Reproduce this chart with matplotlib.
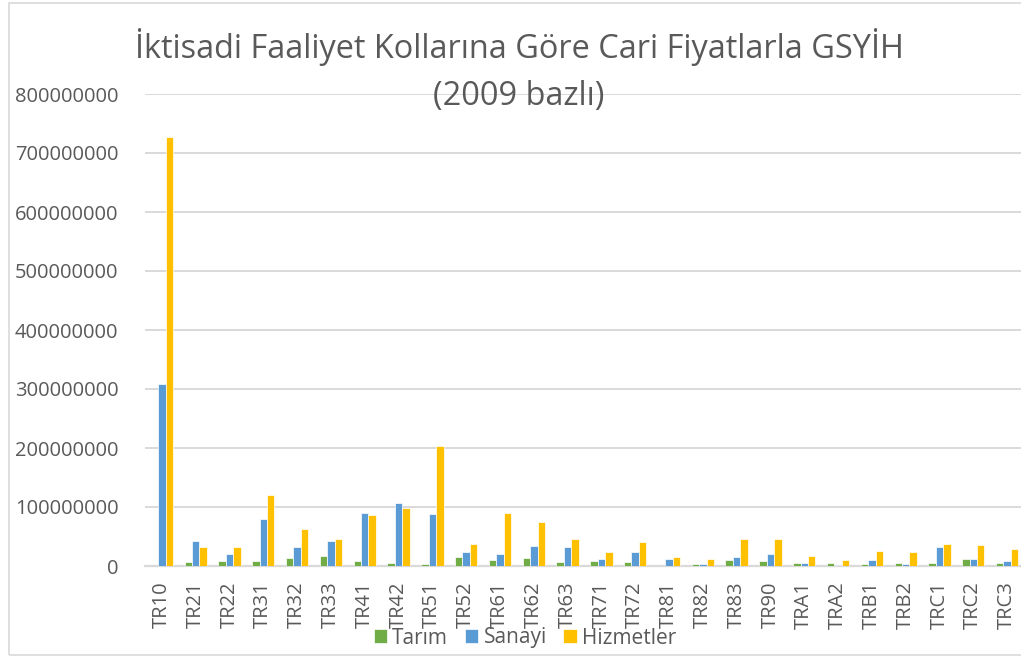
import numpy as np
import matplotlib as mpl
mpl.use('Agg')
import matplotlib.pyplot as plt
import matplotlib.ticker as ticker
from matplotlib.patches import Rectangle

######################
## data (in TL)
######################

regions = ['TR10', 'TR21', 'TR22', 'TR31', 'TR32', 'TR33', 'TR41', 'TR42', 'TR51',
           'TR52', 'TR61', 'TR62', 'TR63', 'TR71', 'TR72', 'TR81', 'TR82', 'TR83',
           'TR90', 'TRA1', 'TRA2', 'TRB1', 'TRB2', 'TRC1', 'TRC2', 'TRC3']

tarim = [0, 7e6, 9e6, 9e6, 14e6, 17e6, 9e6, 5e6, 4e6,
         15e6, 11e6, 14e6, 7e6, 9e6, 7e6, 0, 3.4e6, 11e6,
         8e6, 4.5e6, 5.6e6, 4e6, 5.6e6, 5.6e6, 12e6, 4.5e6]

sanayi = [308e6, 42e6, 21e6, 80e6, 32e6, 43e6, 89e6, 107e6, 88e6,
          24e6, 21e6, 34e6, 33e6, 12e6, 24e6, 12e6, 4e6, 15e6,
          21e6, 5.6e6, 2e6, 10e6, 4e6, 33e6, 12.5e6, 8.5e6]

hizmetler = [727e6, 33e6, 33e6, 120e6, 62e6, 45e6, 87e6, 98e6, 203e6,
             38e6, 90e6, 75e6, 45e6, 23e6, 40e6, 16e6, 12e6, 45e6,
             45e6, 17e6, 11e6, 26e6, 23e6, 37e6, 35e6, 29e6]

series = [('Tarım', tarim, '#70AD47'),
          ('Sanayi', sanayi, '#5B9BD5'),
          ('Hizmetler', hizmetler, '#FFC000')]

######################
## setup plot
######################

plt.rcParams['font.family'] = ['Open Sans', 'DejaVu Sans']
text_color = '#595959'
grid_color = '#D9D9D9'

fig = plt.figure(figsize=(10.21, 6.56), dpi=100)
ax = fig.add_axes([145 / 1021, 90 / 656, 879 / 1021, 472 / 656])

x = np.arange(len(regions))
width = 0.22
for k, (name, vals, color) in enumerate(series):
    ax.bar(x + (k - 1) * width, vals, width, color=color, label=name,
           edgecolor='white', linewidth=0.5, zorder=3)

ax.set_xlim(-0.5, len(regions) - 0.5)
ax.set_ylim(0, 800000000)
ax.yaxis.set_major_locator(ticker.MultipleLocator(100000000))
ax.yaxis.set_major_formatter(ticker.FuncFormatter(lambda v, p: '{:d}'.format(int(v))))

ax.set_xticks(x)
ax.set_xticklabels(regions, rotation=90)

ax.tick_params(axis='y', length=0, pad=19, labelsize=14.5, labelcolor=text_color)
ax.tick_params(axis='x', length=0, pad=11, labelsize=14.5, labelcolor=text_color)

ax.grid(which='major', axis='y', color=grid_color, linewidth=1.4, zorder=0)
for side in ['top', 'right', 'left']:
    ax.spines[side].set_visible(False)
ax.spines['bottom'].set_color(grid_color)
ax.spines['bottom'].set_linewidth(1.6)

fig.text(519 / 1021, 1 - 47 / 656, 'İktisadi Faaliyet Kollarına Göre Cari Fiyatlarla GSYİH',
         ha='center', va='center', fontsize=23.4, color=text_color)
fig.text(519 / 1021, 1 - 97 / 656, '(2009 bazlı)',
         ha='center', va='center', fontsize=23.4, color=text_color)

fig.legend(loc='center', bbox_to_anchor=(525 / 1021, 1 - 638 / 656), ncol=3,
           frameon=False, fontsize=15, labelcolor=text_color,
           handlelength=0.65, handleheight=0.65, handletextpad=0.25,
           columnspacing=0.8, borderpad=0)

# light frame round the whole chart
fig.patches.append(Rectangle((9 / 1021, 1 / 656), 1.2, 652 / 656, transform=fig.transFigure,
                             fill=False, edgecolor=grid_color, linewidth=1.2))

plt.savefig('out.png')
